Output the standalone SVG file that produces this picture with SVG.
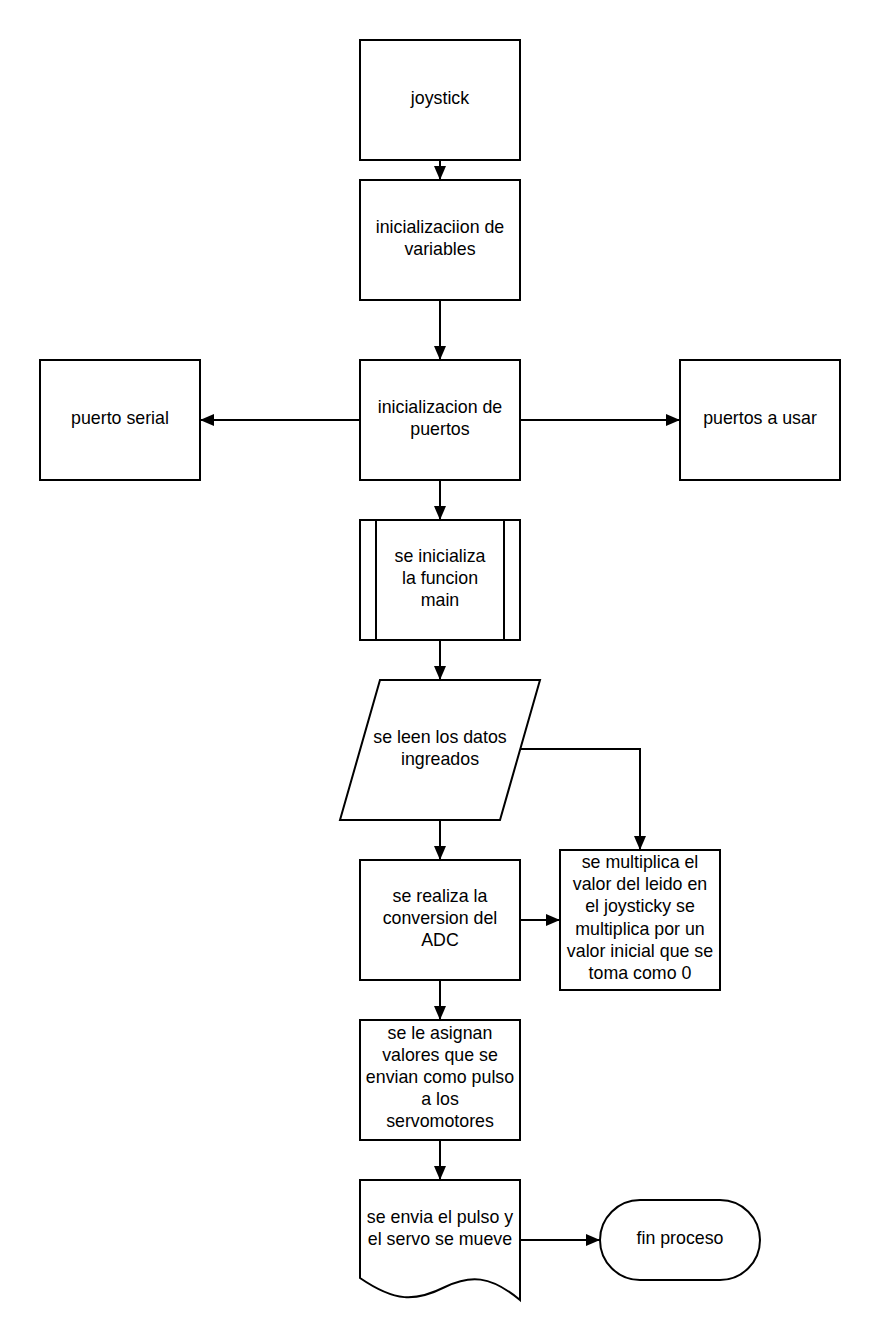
<svg xmlns="http://www.w3.org/2000/svg" width="880" height="1340" viewBox="0 0 880 1340">
<style>
.s{fill:#fff;stroke:#000;stroke-width:2}
.c{fill:none;stroke:#000;stroke-width:2}
text{font-family:"Liberation Sans",Arial,sans-serif;font-size:17.8px;fill:#000;text-anchor:middle}
</style>
<defs>
<marker id="a" markerUnits="userSpaceOnUse" markerWidth="14" markerHeight="12" refX="14" refY="6" orient="auto">
<path d="M0,0 L14,6 L0,12 z" fill="#000"/>
</marker>
</defs>
<rect width="880" height="1340" fill="#fff"/>
<g id="connectors">
<path class="c" d="M440,160 V180" marker-end="url(#a)"/>
<path class="c" d="M440,300 V360" marker-end="url(#a)"/>
<path class="c" d="M360,420 H200" marker-end="url(#a)"/>
<path class="c" d="M520,420 H680" marker-end="url(#a)"/>
<path class="c" d="M440,480 V520" marker-end="url(#a)"/>
<path class="c" d="M440,640 V680" marker-end="url(#a)"/>
<path class="c" d="M440,820 V860" marker-end="url(#a)"/>
<path class="c" d="M520,749 H640 V850" marker-end="url(#a)"/>
<path class="c" d="M520,920 H560" marker-end="url(#a)"/>
<path class="c" d="M440,980 V1020" marker-end="url(#a)"/>
<path class="c" d="M440,1140 V1180" marker-end="url(#a)"/>
<path class="c" d="M520,1240 H600" marker-end="url(#a)"/>
</g>
<g id="joystick">
<rect class="s" x="360" y="40" width="160" height="120"/>
<text x="440" y="104">joystick</text>
</g>
<g id="init-vars">
<rect class="s" x="360" y="180" width="160" height="120"/>
<text x="440" y="233">inicializaciion de</text>
<text x="440" y="255">variables</text>
</g>
<g id="puerto-serial">
<rect class="s" x="40" y="360" width="160" height="120"/>
<text x="120" y="424">puerto serial</text>
</g>
<g id="init-puertos">
<rect class="s" x="360" y="360" width="160" height="120"/>
<text x="440" y="413">inicializacion de</text>
<text x="440" y="435">puertos</text>
</g>
<g id="puertos-usar">
<rect class="s" x="680" y="360" width="160" height="120"/>
<text x="760" y="424">puertos a usar</text>
</g>
<g id="main">
<rect class="s" x="360" y="520" width="160" height="120"/>
<path class="c" d="M376,520 V640 M504,520 V640"/>
<text x="440" y="562">se inicializa</text>
<text x="440" y="584">la funcion</text>
<text x="440" y="606">main</text>
</g>
<g id="leer-datos">
<path class="s" d="M380,680 H540 L500,820 H340 Z"/>
<text x="440" y="743">se leen los datos</text>
<text x="440" y="765">ingreados</text>
</g>
<g id="adc">
<rect class="s" x="360" y="860" width="160" height="120"/>
<text x="440" y="902">se realiza la</text>
<text x="440" y="924">conversion del</text>
<text x="440" y="946">ADC</text>
</g>
<g id="multiplica">
<rect class="s" x="560" y="850" width="160" height="140"/>
<text x="640" y="868">se multiplica el</text>
<text x="640" y="890">valor del leido en</text>
<text x="640" y="912">el joysticky se</text>
<text x="640" y="935">multiplica por un</text>
<text x="640" y="957">valor inicial que se</text>
<text x="640" y="979">toma como 0</text>
</g>
<g id="asignan">
<rect class="s" x="360" y="1020" width="160" height="120"/>
<text x="440" y="1039">se le asignan</text>
<text x="440" y="1061">valores que se</text>
<text x="440" y="1083">envian como pulso</text>
<text x="440" y="1105">a los</text>
<text x="440" y="1127">servomotores</text>
</g>
<g id="envia">
<path class="s" d="M360,1180 H520 V1300 C490,1275 470,1275 445,1287 C415,1302 395,1302 360,1278 Z"/>
<text x="440" y="1223">se envia el pulso y</text>
<text x="440" y="1245">el servo se mueve</text>
</g>
<g id="fin">
<rect class="s" x="600" y="1200" width="160" height="80" rx="40" ry="40"/>
<text x="680" y="1244">fin proceso</text>
</g>
</svg>
